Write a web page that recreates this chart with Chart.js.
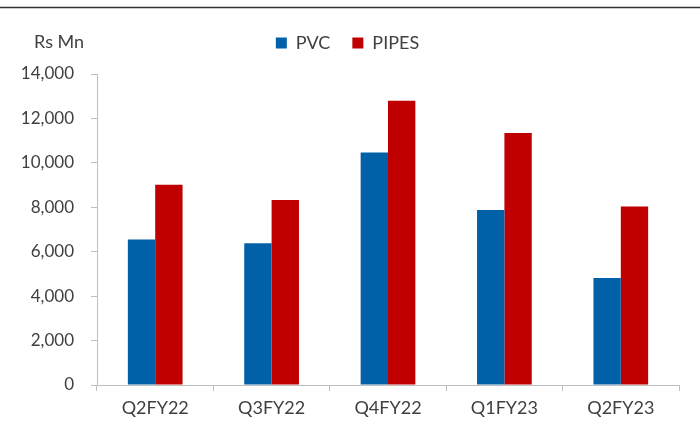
<!DOCTYPE html>
<html>
<head>
<meta charset="utf-8">
<script src="https://cdn.jsdelivr.net/npm/chart.js@4/dist/chart.umd.min.js"></script>
<style>
  html, body { margin: 0; padding: 0; background: #ffffff; }
  #wrap { width: 700px; height: 421px; position: relative; }
</style>
</head>
<body>
<div id="wrap"><canvas id="chart" width="700" height="421"></canvas></div>
<script>
// Quarterly revenue by segment (Rs Mn)
const quarters = ['Q2FY22', 'Q3FY22', 'Q4FY22', 'Q1FY23', 'Q2FY23'];
const pvcValues = [6550, 6380, 10470, 7880, 4820];
const pipesValues = [9020, 8330, 12800, 11340, 8030];
const yTicks = [0, 2000, 4000, 6000, 8000, 10000, 12000, 14000];

const TEXT = '#404040';
const AXIS = '#bfbfbf';
const FONT = 'Lato, "Open Sans", sans-serif';

// Top rule and unit caption
const decorations = {
  id: 'decorations',
  afterDraw(chart) {
    const ctx = chart.ctx;
    ctx.save();
    ctx.strokeStyle = '#333333';
    ctx.lineWidth = 1.5;
    ctx.beginPath();
    ctx.moveTo(0, 7.5);
    ctx.lineTo(chart.width, 7.5);
    ctx.stroke();
    ctx.fillStyle = TEXT;
    ctx.font = '18px ' + FONT;
    ctx.textBaseline = 'middle';
    ctx.textAlign = 'left';
    ctx.fillText('Rs Mn', 34, 42);
    ctx.restore();
  }
};

// Fixed legend block height, and centre the legend on the full canvas width
const legendBox = {
  id: 'legendBox',
  beforeInit(chart) {
    const origFit = chart.legend.fit;
    chart.legend.fit = function () {
      origFit.call(this);
      this.height = 62;
    };
  },
  afterLayout(chart) {
    const lg = chart.legend;
    lg.left = 0;
    lg.right = 695;
    lg.width = 695;
  }
};

new Chart(document.getElementById('chart'), {
  type: 'bar',
  data: {
    labels: quarters,
    datasets: [
      {
        label: 'PVC',
        data: pvcValues,
        backgroundColor: '#0061a8',
        categoryPercentage: 0.47,
        barPercentage: 1.0
      },
      {
        label: 'PIPES',
        data: pipesValues,
        backgroundColor: '#c00000',
        categoryPercentage: 0.47,
        barPercentage: 1.0
      }
    ]
  },
  options: {
    responsive: false,
    animation: false,
    devicePixelRatio: 1,
    layout: { padding: { top: 12, left: 0, right: 21, bottom: 0 } },
    plugins: {
      legend: {
        position: 'top',
        align: 'center',
        labels: {
          color: TEXT,
          font: { family: FONT, size: 18 },
          boxWidth: 11,
          boxHeight: 11,
          padding: 22
        }
      },
      tooltip: { enabled: false },
      title: { display: false }
    },
    scales: {
      x: {
        grid: {
          display: true,
          drawOnChartArea: false,
          offset: true,
          color: AXIS,
          tickLength: 6
        },
        border: { color: AXIS, width: 1 },
        ticks: {
          color: TEXT,
          font: { family: FONT, size: 18 },
          padding: 6
        },
        afterFit(scale) { scale.height = 36; }
      },
      y: {
        min: 0,
        max: 14000,
        afterBuildTicks(scale) {
          scale.ticks = yTicks.map(v => ({ value: v }));
        },
        grid: {
          display: true,
          drawOnChartArea: false,
          color: AXIS,
          tickLength: 6
        },
        border: { color: AXIS, width: 1 },
        ticks: {
          color: TEXT,
          font: { family: FONT, size: 17 },
          padding: 17,
          callback: v => v.toLocaleString('en-US')
        },
        afterFit(scale) { scale.width = 97; }
      }
    }
  },
  plugins: [decorations, legendBox]
});
</script>
</body>
</html>
